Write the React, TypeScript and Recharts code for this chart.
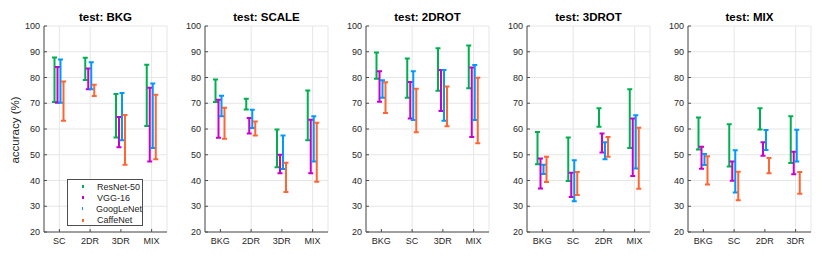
import { BarChart, Bar, XAxis, YAxis, CartesianGrid } from 'recharts';

const MODELS = ['ResNet-50', 'VGG-16', 'GoogLeNet', 'CaffeNet'];
const MODEL_KEYS = ['resnet', 'vgg', 'goog', 'caffe'];
const COLORS = ['#00b050', '#cc00cc', '#0099ff', '#ff6633'];
const Y_TICKS = [20, 30, 40, 50, 60, 70, 80, 90, 100];

const TESTS = ['BKG', 'SCALE', '2DROT', '3DROT', 'MIX'];

// train sets shown on each panel's x axis
const CATS_BKG = ['SC', '2DR', '3DR', 'MIX'];
const CATS_SCALE = ['BKG', '2DR', '3DR', 'MIX'];
const CATS_2DROT = ['BKG', 'SC', '3DR', 'MIX'];
const CATS_3DROT = ['BKG', 'SC', '2DR', 'MIX'];
const CATS_MIX = ['BKG', 'SC', '2DR', '3DR'];

// [min, max] accuracy per category, one array per model
const BKG_RESNET = [[70.5, 87.8], [79.0, 87.7], [56.7, 73.6], [61.2, 85.0]];
const BKG_VGG = [[70.2, 84.1], [75.4, 83.5], [52.9, 64.7], [47.4, 76.0]];
const BKG_GOOG = [[70.2, 87.0], [75.4, 85.9], [55.6, 74.0], [52.6, 77.7]];
const BKG_CAFFE = [[63.2, 78.4], [72.8, 77.2], [46.1, 65.4], [48.3, 73.3]];

const SCALE_RESNET = [[70.5, 79.2], [67.6, 71.7], [45.1, 59.8], [55.6, 75.0]];
const SCALE_VGG = [[56.6, 71.4], [58.3, 64.3], [42.8, 50.0], [42.8, 63.6]];
const SCALE_GOOG = [[65.0, 72.9], [60.4, 67.5], [44.5, 57.5], [47.4, 65.0]];
const SCALE_CAFFE = [[56.2, 68.3], [57.5, 62.9], [35.5, 46.9], [39.5, 62.4]];

const ROT2_RESNET = [[79.5, 89.7], [72.1, 87.4], [74.9, 91.4], [75.8, 92.4]];
const ROT2_VGG = [[70.6, 82.4], [64.1, 78.3], [67.0, 82.9], [56.9, 83.9]];
const ROT2_GOOG = [[72.1, 78.9], [63.5, 82.4], [63.2, 82.9], [63.5, 84.9]];
const ROT2_CAFFE = [[66.2, 78.2], [58.7, 75.6], [61.1, 76.5], [54.5, 79.9]];

const ROT3_RESNET = [[46.3, 58.8], [39.8, 56.7], [60.9, 68.1], [52.6, 75.4]];
const ROT3_VGG = [[36.9, 48.5], [33.6, 43.0], [50.9, 58.3], [41.7, 64.1]];
const ROT3_GOOG = [[42.5, 46.1], [31.9, 47.9], [48.3, 54.9], [44.7, 65.3]];
const ROT3_CAFFE = [[39.4, 49.2], [34.4, 43.3], [49.2, 56.9], [36.8, 60.5]];

const MIX_RESNET = [[52.0, 64.5], [45.4, 61.8], [59.8, 68.1], [46.8, 65.0]];
const MIX_VGG = [[44.6, 53.1], [39.9, 47.4], [49.6, 54.9], [42.4, 51.2]];
const MIX_GOOG = [[46.0, 50.3], [35.3, 51.7], [51.8, 59.6], [47.4, 59.7]];
const MIX_CAFFE = [[38.4, 49.4], [32.3, 43.4], [42.8, 48.7], [34.9, 43.3]];

const PANEL_CATS = [CATS_BKG, CATS_SCALE, CATS_2DROT, CATS_3DROT, CATS_MIX];
const PANEL_SERIES = [
  [BKG_RESNET, BKG_VGG, BKG_GOOG, BKG_CAFFE],
  [SCALE_RESNET, SCALE_VGG, SCALE_GOOG, SCALE_CAFFE],
  [ROT2_RESNET, ROT2_VGG, ROT2_GOOG, ROT2_CAFFE],
  [ROT3_RESNET, ROT3_VGG, ROT3_GOOG, ROT3_CAFFE],
  [MIX_RESNET, MIX_VGG, MIX_GOOG, MIX_CAFFE],
];

const FONT = '"Liberation Sans", Arial, Helvetica, sans-serif';
const AXIS_COLOR = '#4d4d4d';
const TEXT_COLOR = '#262626';

const Y_AXIS_W = 30;
const PLOT_W = 123;
const PANEL_STEP = 161;
const FIRST_PLOT_LEFT = 44;

const buildRows = (cats: string[], series: number[][][]) =>
  cats.map((cat, i) => {
    const row: Record<string, unknown> = { cat };
    MODEL_KEYS.forEach((k, m) => {
      row[k] = series[m][i];
    });
    return row;
  });

// vertical min-max line with small caps
const RangeShape = (props: any) => {
  const { x, y, width, height, fill } = props;
  if (height == null || isNaN(height)) return null;
  const cx = x + width / 2;
  const cap = 2.5;
  const top = y;
  const bot = y + height;
  return (
    <path
      d={`M${cx},${top}L${cx},${bot}M${cx - cap},${top}L${cx + cap},${top}M${cx - cap},${bot}L${cx + cap},${bot}`}
      stroke={fill}
      strokeWidth={2}
      fill="none"
    />
  );
};

const LegendBox = () => (
  <div
    style={{
      position: 'absolute',
      left: 67,
      top: 179,
      width: 76,
      height: 47,
      border: `1px solid ${AXIS_COLOR}`,
      background: '#fff',
      fontFamily: FONT,
      fontSize: 9,
      color: TEXT_COLOR,
      boxSizing: 'border-box',
      paddingTop: 1,
      whiteSpace: 'nowrap',
    }}
  >
    {MODELS.map((name, i) => (
      <div key={name} style={{ display: 'flex', alignItems: 'center', height: 11.2 }}>
        <span
          style={{
            display: 'inline-block',
            width: 2,
            height: 3,
            background: COLORS[i],
            marginLeft: 14,
            marginRight: 13,
          }}
        />
        <span>{name}</span>
      </div>
    ))}
  </div>
);

const Panel = ({ index }: { index: number }) => {
  const rows = buildRows(PANEL_CATS[index], PANEL_SERIES[index]);
  const plotLeft = FIRST_PLOT_LEFT + index * PANEL_STEP;
  const tickStyle = { fontSize: 9, fill: TEXT_COLOR, fontFamily: FONT };
  return (
    <div style={{ position: 'absolute', left: plotLeft - Y_AXIS_W, top: 0 }}>
      <div
        style={{
          position: 'absolute',
          left: Y_AXIS_W,
          top: 9,
          width: PLOT_W,
          textAlign: 'center',
          fontFamily: FONT,
          fontWeight: 'bold',
          fontSize: 11.5,
          lineHeight: '16px',
          color: '#000',
        }}
      >
        test: {TESTS[index]}
      </div>
      <BarChart
        width={Y_AXIS_W + PLOT_W + 4}
        height={259}
        data={rows}
        margin={{ top: 26, right: 4, bottom: 7, left: 0 }}
        barSize={3}
        barGap={0}
      >
        <CartesianGrid stroke="#e6e6e6" />
        <XAxis
          dataKey="cat"
          height={20}
          tick={tickStyle}
          tickSize={-3}
          tickMargin={9}
          tickLine={{ stroke: AXIS_COLOR }}
          axisLine={{ stroke: AXIS_COLOR }}
        />
        <XAxis
          xAxisId="top"
          dataKey="cat"
          orientation="top"
          height={0}
          tick={false}
          tickSize={-3}
          tickLine={{ stroke: AXIS_COLOR }}
          axisLine={{ stroke: AXIS_COLOR }}
        />
        <YAxis
          domain={[20, 100]}
          ticks={Y_TICKS}
          width={Y_AXIS_W}
          tick={tickStyle}
          tickSize={-3}
          tickMargin={7}
          tickLine={{ stroke: AXIS_COLOR }}
          axisLine={{ stroke: AXIS_COLOR }}
          allowDataOverflow
        />
        <YAxis
          yAxisId="right"
          orientation="right"
          domain={[20, 100]}
          ticks={Y_TICKS}
          width={0}
          tick={false}
          tickSize={-3}
          tickLine={{ stroke: AXIS_COLOR }}
          axisLine={{ stroke: AXIS_COLOR }}
        />
        {MODEL_KEYS.map((k, m) => (
          <Bar
            key={k}
            dataKey={k}
            name={MODELS[m]}
            fill={COLORS[m]}
            shape={<RangeShape />}
            isAnimationActive={false}
          />
        ))}
      </BarChart>
    </div>
  );
};

export default function App() {
  return (
    <div
      style={{
        position: 'absolute',
        left: 0,
        top: 0,
        width: 830,
        height: 259,
        background: '#fff',
        overflow: 'hidden',
      }}
    >
      <div
        style={{
          position: 'absolute',
          left: 15,
          top: 130,
          transform: 'translate(-50%, -50%) rotate(-90deg)',
          whiteSpace: 'nowrap',
          fontFamily: FONT,
          fontSize: 11.5,
          color: TEXT_COLOR,
        }}
      >
        accuracy (%)
      </div>
      {TESTS.map((t, i) => (
        <Panel key={t} index={i} />
      ))}
      <LegendBox />
    </div>
  );
}
